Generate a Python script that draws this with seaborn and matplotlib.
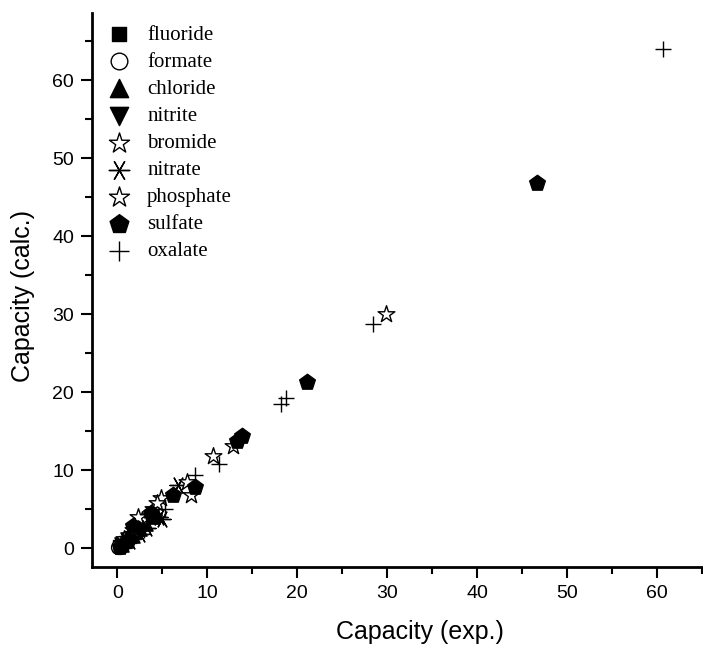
import numpy as np
import pandas as pd
import seaborn as sns
import matplotlib.pyplot as plt
from matplotlib.ticker import MultipleLocator

fluoride_exp = [0.2, 0.5, 0.9, 1.4, 2.0]
fluoride_calc = [0.3, 0.6, 0.8, 1.5, 1.9]
formate_exp = [0.1, 0.3, 0.6, 1.0]
formate_calc = [0.2, 0.2, 0.7, 0.9]
chloride_exp = [0.4, 0.9, 1.6, 2.4, 3.1]
chloride_calc = [0.5, 1.1, 1.7, 2.6, 3.2]
nitrite_exp = [0.5, 1.2, 2.0, 2.8]
nitrite_calc = [0.4, 1.0, 1.8, 2.5]
bromide_exp = [0.8, 1.7, 2.7, 4.0, 4.9]
bromide_calc = [1.2, 2.3, 3.6, 5.0, 6.4]
nitrate_exp = [1.4, 2.5, 3.3, 4.6, 5.0, 6.8]
nitrate_calc = [0.9, 1.8, 2.6, 4.0, 3.7, 8.1]
phosphate_exp = [2.3, 4.4, 7.8, 8.2, 10.6, 12.9, 29.9]
phosphate_calc = [4.0, 5.8, 8.5, 6.8, 11.8, 13.1, 30.0]
sulfate_exp = [0.3, 1.2, 1.8, 3.7, 4.1, 6.2, 8.6, 13.3, 13.9, 21.1, 46.7]
sulfate_calc = [0.2, 1.0, 2.9, 4.5, 4.0, 6.8, 7.9, 13.7, 14.4, 21.3, 46.8]
oxalate_exp = [0.8, 1.8, 3.0, 5.3, 8.6, 11.3, 18.2, 18.8, 28.4, 60.7]
oxalate_calc = [0.6, 1.5, 2.4, 5.0, 9.4, 10.8, 18.5, 19.2, 28.7, 64.0]

asterisco = (6, 2, 90)

series = [
    ("fluoride", fluoride_exp, fluoride_calc, "s", "black", 80),
    ("formate", formate_exp, formate_calc, "o", "white", 100),
    ("chloride", chloride_exp, chloride_calc, "^", "black", 120),
    ("nitrite", nitrite_exp, nitrite_calc, "v", "black", 120),
    ("bromide", bromide_exp, bromide_calc, "*", "white", 160),
    ("nitrate", nitrate_exp, nitrate_calc, asterisco, "black", 150),
    ("phosphate", phosphate_exp, phosphate_calc, "*", "white", 160),
    ("sulfate", sulfate_exp, sulfate_calc, "p", "black", 140),
    ("oxalate", oxalate_exp, oxalate_calc, "+", "black", 130),
]

sns.set_style("ticks", {"axes.edgecolor": "black", "xtick.color": "black",
                        "ytick.color": "black", "text.color": "black",
                        "axes.labelcolor": "black"})
plt.rcParams['font.family'] = ['Liberation Sans', 'DejaVu Sans']

fig = plt.figure(figsize=(7.03, 6.51), dpi=100)
ax = fig.add_axes([0.131, 0.129, 0.869, 0.851])

for name, xs, ys, mk, fc, sz in series:
    df = pd.DataFrame({"exp": xs, "calc": ys})
    if mk in ["+", asterisco]:
        sns.scatterplot(data=df, x="exp", y="calc", marker=mk, color="black",
                        s=sz, linewidth=1.0, ax=ax, label=name)
    else:
        sns.scatterplot(data=df, x="exp", y="calc", marker=mk, facecolor=fc,
                        edgecolor="black", s=sz, linewidth=1.0, ax=ax, label=name)

ax.set_xlim(-2.8, 65.1)
ax.set_ylim(-2.4, 68.6)
ax.xaxis.set_major_locator(MultipleLocator(10))
ax.xaxis.set_minor_locator(MultipleLocator(5))
ax.yaxis.set_major_locator(MultipleLocator(10))
ax.yaxis.set_minor_locator(MultipleLocator(5))
ax.tick_params(which="major", length=8, width=1.5, labelsize=14, direction="out",
               colors="black", pad=5)
ax.tick_params(which="minor", length=5, width=1.5, direction="out", colors="black")
sns.despine(ax=ax)
for sp in ["left", "bottom"]:
    ax.spines[sp].set_linewidth(2)

ax.set_xlabel("Capacity (exp.)", fontsize=18)
ax.set_ylabel("Capacity (calc.)", fontsize=18)
ax.xaxis.set_label_coords(0.537, -0.095)
ax.yaxis.set_label_coords(-0.093, 0.49)

ax.legend(loc="upper left", bbox_to_anchor=(0.027, 0.978), frameon=False,
          prop={"family": "Liberation Serif", "size": 15},
          labelspacing=0.36, handlelength=1.0, handletextpad=0.85,
          borderpad=0, borderaxespad=0, markerscale=1.2)

plt.savefig("out.png", dpi=100)
